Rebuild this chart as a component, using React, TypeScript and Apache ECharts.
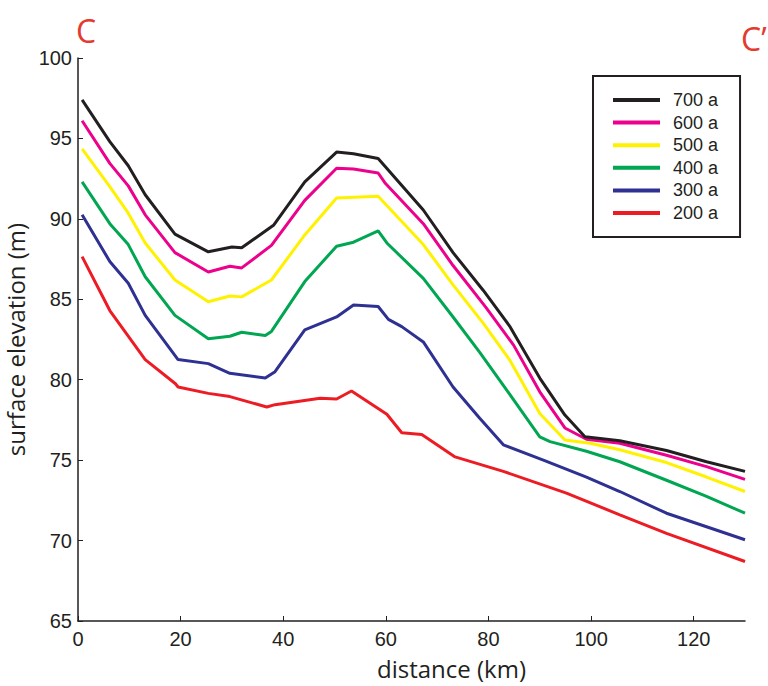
import React, { useEffect, useRef } from "react";
import * as echarts from "echarts";

const seriesNames = ["200 a", "300 a", "400 a", "500 a", "600 a", "700 a"];
const legendOrder = ["700 a", "600 a", "500 a", "400 a", "300 a", "200 a"];
const seriesColors = ["#ed1c24", "#2e3192", "#00a651", "#fff200", "#ec008c", "#231f20"];
const xTicks = [0, 20, 40, 60, 80, 100, 120];

const red200 = [
  [0.8, 87.65], [6.2, 84.3], [13.1, 81.25], [19.0, 79.75], [19.5, 79.55], [25.4, 79.15],
  [29.6, 78.95], [36.8, 78.3], [38.4, 78.45], [47.2, 78.85], [50.4, 78.8], [53.3, 79.3],
  [60.2, 77.85], [63.1, 76.7], [67.0, 76.6], [73.5, 75.2], [82.9, 74.3], [95.2, 72.95],
  [105.6, 71.6], [114.7, 70.45], [130, 68.7],
];
const blue300 = [
  [0.8, 90.25], [6.2, 87.35], [9.8, 86.0], [13.1, 84.0], [19.5, 81.25], [25.4, 81.0],
  [29.6, 80.4], [36.5, 80.1], [38.4, 80.5], [44.2, 83.1], [50.4, 83.9], [53.7, 84.65],
  [58.5, 84.55], [60.5, 83.75], [63.1, 83.3], [67.3, 82.35], [73.1, 79.55], [78.3, 77.6],
  [82.9, 75.95], [90.7, 75.0], [99.1, 73.95], [105.6, 73.05], [114.7, 71.7], [130, 70.05],
];
const green400 = [
  [0.8, 92.3], [6.2, 89.7], [9.8, 88.4], [13.1, 86.4], [18.9, 84.0], [25.4, 82.55],
  [29.6, 82.7], [31.9, 82.95], [36.5, 82.75], [37.7, 83.0], [44.2, 86.1], [50.4, 88.3],
  [53.7, 88.55], [58.5, 89.25], [60.2, 88.5], [67.3, 86.3], [73.1, 83.9], [78.3, 81.7],
  [82.9, 79.65], [90.0, 76.45], [92.0, 76.15], [99.1, 75.55], [105.6, 74.9], [114.7, 73.75],
  [122.5, 72.75], [130, 71.7],
];
const yellow500 = [
  [0.8, 94.35], [6.2, 92.0], [9.8, 90.35], [13.1, 88.5], [18.9, 86.2], [25.4, 84.85],
  [29.6, 85.2], [31.9, 85.15], [37.7, 86.2], [44.2, 89.0], [50.4, 91.3], [58.5, 91.4],
  [67.3, 88.4], [73.1, 85.9], [79.0, 83.5], [84.2, 81.2], [90.0, 77.9], [94.9, 76.25],
  [99.8, 76.05], [105.6, 75.65], [114.7, 74.85], [122.5, 73.95], [130, 73.05],
];
const magenta600 = [
  [0.8, 96.1], [6.2, 93.45], [9.8, 92.05], [13.1, 90.25], [18.9, 87.9], [25.4, 86.7],
  [29.6, 87.05], [31.9, 86.95], [37.7, 88.35], [44.2, 91.15], [50.4, 93.15], [53.7, 93.1],
  [58.5, 92.85], [59.8, 92.25], [67.3, 89.7], [73.1, 87.1], [79.5, 84.5], [84.9, 82.15],
  [90.0, 79.25], [94.9, 77.0], [99.1, 76.3], [105.6, 76.05], [114.7, 75.3], [122.5, 74.6],
  [130, 73.8],
];
const black700 = [
  [0.8, 97.4], [6.2, 94.8], [9.8, 93.3], [13.1, 91.5], [18.9, 89.05], [25.4, 87.95],
  [30.0, 88.25], [31.9, 88.2], [38.1, 89.6], [44.2, 92.3], [50.4, 94.15], [53.7, 94.05],
  [58.5, 93.75], [67.3, 90.55], [73.1, 87.9], [79.0, 85.55], [84.2, 83.3], [90.0, 80.1],
  [94.9, 77.8], [98.8, 76.45], [105.6, 76.2], [114.7, 75.6], [122.5, 74.9], [130, 74.3],
];
const seriesData = [red200, blue300, green400, yellow500, magenta600, black700];

const tickFont = "'Liberation Sans', Arial, sans-serif";
const titleFont = "'Open Sans', 'Noto Sans', sans-serif";
const ink = "#231f20";

export default function App() {
  const ref = useRef<HTMLDivElement>(null);
  useEffect(() => {
    if (!ref.current) return;
    const chart = echarts.init(ref.current, null, { renderer: "svg" });
    chart.setOption({
      animation: false,
      backgroundColor: "#ffffff",
      grid: { left: 78, right: 23, top: 58, bottom: 65, containLabel: false, outerBoundsMode: "none" },
      legend: {
        data: legendOrder,
        orient: "vertical",
        left: 593,
        top: 76,
        padding: [15, 22, 15, 20],
        borderColor: ink,
        borderWidth: 2,
        icon: "rect",
        itemWidth: 47,
        itemHeight: 4,
        itemGap: 4.6,
        textStyle: { fontSize: 18, fontFamily: tickFont, color: ink, padding: [0, 0, 0, 8] },
      },
      xAxis: {
        type: "value",
        min: 0,
        max: 130,
        interval: 20,
        name: "distance (km)",
        nameLocation: "middle",
        nameGap: 35,
        nameTextStyle: { fontSize: 24, fontFamily: titleFont, color: ink, padding: [0, 0, 0, 80] },
        axisLine: { lineStyle: { color: ink, width: 1.5 } },
        axisTick: { inside: true, length: 5, customValues: xTicks, lineStyle: { color: ink } },
        axisLabel: { customValues: xTicks, fontSize: 20, fontFamily: tickFont, color: ink, margin: 8 },
        splitLine: { show: false },
      },
      yAxis: {
        type: "value",
        min: 65,
        max: 100,
        interval: 5,
        name: "surface elevation (m)",
        nameLocation: "middle",
        nameGap: 42,
        nameTextStyle: { fontSize: 24, fontFamily: titleFont, color: ink },
        axisLine: { show: true, lineStyle: { color: ink, width: 1.5 } },
        axisTick: { show: true, inside: true, length: 5, lineStyle: { color: ink } },
        axisLabel: { fontSize: 20, fontFamily: tickFont, color: ink, margin: 6 },
        splitLine: { show: false },
      },
      series: seriesNames.map((name, i) => ({
        name,
        type: "line",
        data: seriesData[i],
        showSymbol: false,
        symbol: "none",
        color: seriesColors[i],
        lineStyle: { width: 3, color: seriesColors[i] },
      })),
      graphic: [
        {
          type: "text",
          x: 86,
          y: 30,
          style: {
            text: "C",
            font: `32px ${titleFont}`,
            fill: "#e33b2e",
            textAlign: "center",
            textVerticalAlign: "middle",
          },
        },
        {
          type: "text",
          x: 741,
          y: 38,
          style: {
            text: "C\u2019",
            font: `32px ${titleFont}`,
            fill: "#e33b2e",
            textAlign: "left",
            textVerticalAlign: "middle",
          },
        },
      ],
    });
    return () => chart.dispose();
  }, []);
  return <div ref={ref} style={{ position: "absolute", left: 0, top: 0, width: 768, height: 686 }} />;
}
